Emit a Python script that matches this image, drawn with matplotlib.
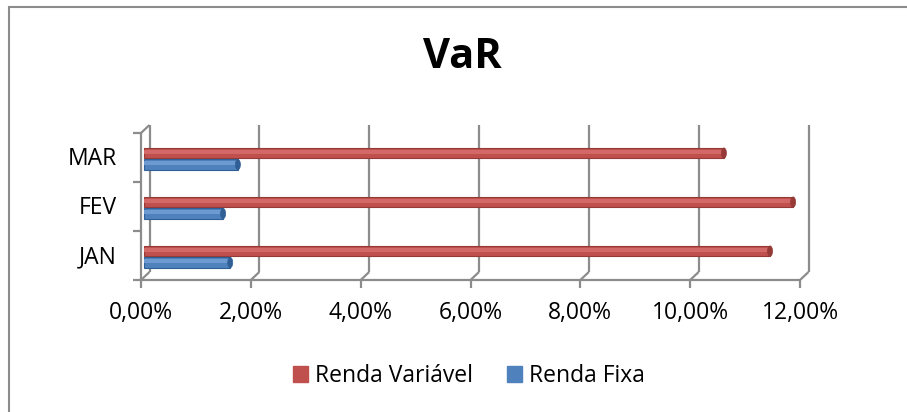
import matplotlib
matplotlib.use('Agg')
from matplotlib import pyplot as plt
from matplotlib.patches import Patch, Rectangle, Ellipse

plt.rcParams['font.family'] = ['Open Sans', 'DejaVu Sans']

meses = ['JAN', 'FEV', 'MAR']
renda_variavel = [11.40, 11.82, 10.56]
renda_fixa = [1.57, 1.44, 1.71]
ticks = [0, 2, 4, 6, 8, 10, 12]
tick_labels = ['0,00%', '2,00%', '4,00%', '6,00%', '8,00%', '10,00%', '12,00%']

W, H = 907, 412
fig = plt.figure(figsize=(W / 100, H / 100), dpi=100)

# front plane of the "3d" box in pixels
x0, x1, ytop, ybot = 141, 800, 133, 280
ax = fig.add_axes([x0 / W, 1 - ybot / H, (x1 - x0) / W, (ybot - ytop) / H])
ax.set_xlim(0, 12)
ax.set_ylim(-0.5, 2.5)
ax.axis('off')

px = 12 / (x1 - x0)
py = 3 / (ybot - ytop)
bx, by = 8.5 * px, 8 * py   # depth offset of the back wall
grid = dict(color='#8c8c8c', lw=1.6, clip_on=False, solid_capstyle='butt')

# back wall gridlines
for v in ticks:
    ax.plot([v + bx, v + bx], [-0.5 + by, 2.5 + by], **grid)
    ax.plot([v, v + bx], [-0.5, -0.5 + by], **grid)
    ax.plot([v, v], [-0.5, -0.5 - 8 * py], **grid)

# floor front edge and left wall
ax.plot([-8 * px, 12], [-0.5, -0.5], **grid)
ax.plot([0, 0], [-0.5, 2.5], **grid)
ax.plot([0, bx], [2.5, 2.5 + by], **grid)
for yb in [0.5, 1.5, 2.5]:
    ax.plot([-8 * px, 0], [yb, yb], **grid)

# cylinders
h = 0.21
left = 3 * px
series = [
    (renda_variavel, 0.09, '#c0504d', '#963a37', '#d26966'),
    (renda_fixa, -0.145, '#4f81bd', '#305f96', '#6d9bd1'),
]
for vals, off, c, dark, light in series:
    for i, v in enumerate(vals):
        y = i + off
        ax.barh(y, v, left=left, height=h, color=c, edgecolor=dark, lw=0.8, zorder=3)
        ax.barh(y + 0.025, v, left=left, height=0.08, color=light, lw=0, zorder=4)
        ax.add_patch(Ellipse((left + v, y), 5 * px, h, facecolor=dark,
                             edgecolor=dark, lw=0.5, zorder=5))

for v, lab in zip(ticks, tick_labels):
    ax.text(v, -0.5 - 33 * py, lab, ha='center', va='center', fontsize=16.5,
            color='black', clip_on=False)
for i, m in enumerate(meses):
    ax.text(-24 * px, i - 0.03, m, ha='right', va='center', fontsize=16.5,
            color='black', clip_on=False)

fig.text(462 / W, 1 - 58 / H, 'VaR', ha='center', va='center', fontsize=30,
         fontweight='bold', color='black')

handles = [Patch(color='#c0504d', label='Renda Variável'),
           Patch(color='#4f81bd', label='Renda Fixa')]
fig.legend(handles=handles, loc='center', bbox_to_anchor=(469 / W, 1 - 376 / H),
           ncol=2, frameon=False, fontsize=16.5, handlelength=0.65,
           handleheight=0.65, handletextpad=0.3, columnspacing=1.5)

fig.add_artist(Rectangle((8.5 / W, -1), 2, 2 - 7 / H, transform=fig.transFigure,
                         fill=False, edgecolor='#8c8c8c', lw=1.5))

fig.savefig('out.png', dpi=100)
